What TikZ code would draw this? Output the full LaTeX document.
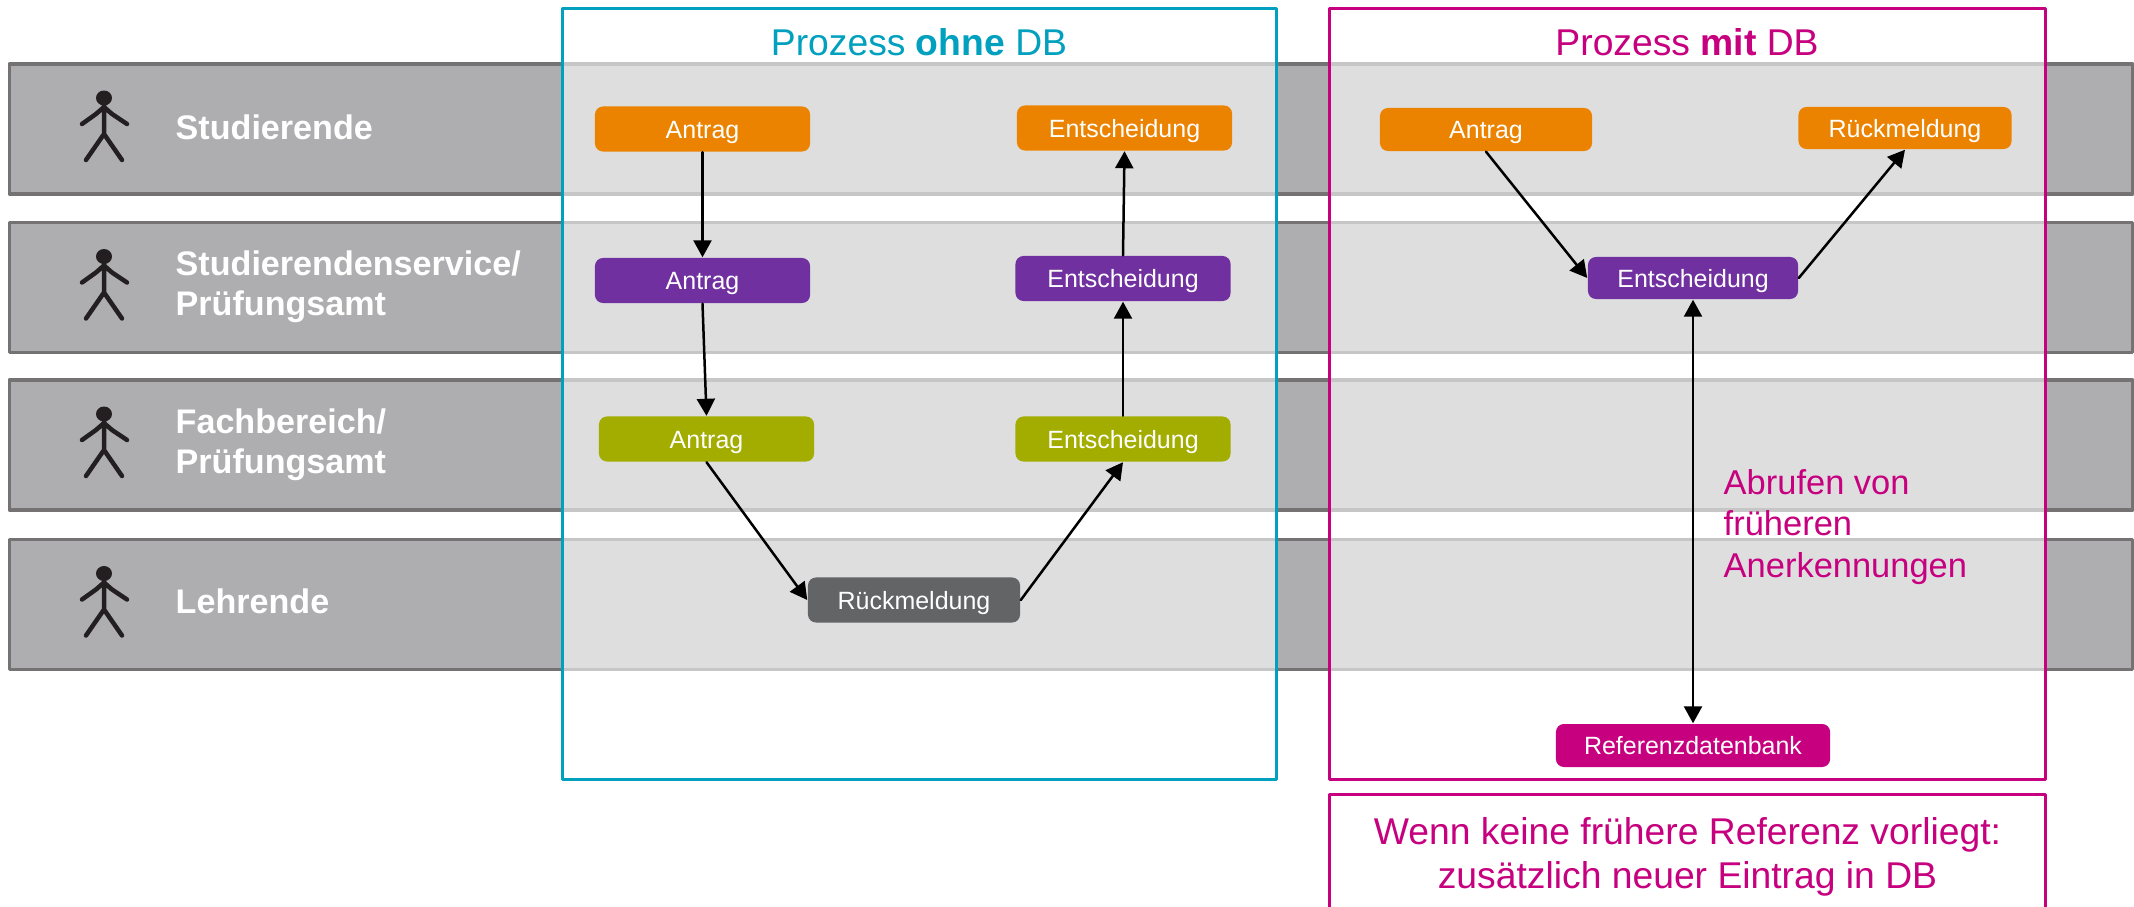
\documentclass[tikz,border=0pt]{standalone}
\usepackage{fontspec}
\setmainfont{Liberation Sans}
\usetikzlibrary{arrows.meta}
\definecolor{orangeA}{HTML}{EB8300}
\definecolor{lilaA}{HTML}{7030A0}
\definecolor{gruenA}{HTML}{A2AD00}
\definecolor{grauA}{HTML}{636466}
\definecolor{magentaA}{HTML}{C6007E}
\definecolor{blauA}{HTML}{00A0BE}
\definecolor{bandgrau}{HTML}{AEAEB0}
\definecolor{bandrand}{HTML}{747272}
\definecolor{strichfarbe}{HTML}{231F20}
\begin{document}
\begin{tikzpicture}[x=0.01cm, y=-0.01cm, line join=round, line cap=round,
	>={Stealth[length=0.17cm,width=0.18cm,inset=0pt]},
	band/.style={draw=bandrand, fill=bandgrau, line width=0.035cm, minimum width=21.22cm, minimum height=1.30cm, inner sep=0pt},
	rolle/.style={text=white, anchor=west, align=left, inner sep=0pt, font=\bfseries\fontsize{9.7}{11.4}\selectfont},
	stufe/.style={text=white, rounded corners=0.08cm, minimum width=2.15cm, minimum height=0.45cm, inner sep=0pt, text height=0.18cm, text depth=0cm, font=\fontsize{7.1}{8.5}\selectfont},
	kasten/.style={line width=0.03cm, fill=white, fill opacity=0.6, inner sep=0pt, minimum width=7.135cm, minimum height=7.70cm},
	titel/.style={anchor=base, font=\fontsize{10.6}{12.6}\selectfont},
	pfeil/.style={->, line width=0.025cm},
	strichmann/.pic={
		\fill[strichfarbe] (0,-31) ellipse (8 and 7.5);
		\draw[strichfarbe, line width=0.045cm] (0,-24)--(0,6) (-22,-5)--(-8,-15)--(0,-22)--(8,-15)--(23,-5) (-18,31)--(0,5)--(18,31);
	}]
	\useasboundingbox (0,0) rectangle (2134,906);
	\clip (0,0) rectangle (2134,906);
	% Baender
	\foreach \y/\n in {129/b1, 287.5/b2, 445/b3, 604.5/b4}{
		\node[band] (\n) at (1071,\y) {};
		\pic at (104,\y) {strichmann};
	}
	\node[rolle] (r1) at (175,127) {Studierende};
	\node[rolle] (r2) at (175,287) {Studierendenservice/\\Prüfungsamt};
	\node[rolle] (r3) at (175,445) {Fachbereich/\\Prüfungsamt};
	\node[rolle] (r4) at (175,601) {Lehrende};
	% Prozess ohne DB
	\node[kasten, draw=blauA] (ohne) at (919.2,394) {};
	\node[titel, text=blauA] (tohne) at (919,55) {Prozess \textbf{ohne} DB};
	\node[stufe, fill=orangeA] (a1) at (702.5,129) {Antrag};
	\node[stufe, fill=lilaA] (a2) at (702.5,280.5) {Antrag};
	\node[stufe, fill=gruenA] (a3) at (706.5,439) {Antrag};
	\node[stufe, fill=grauA, minimum width=2.12cm] (r) at (914,600) {Rückmeldung};
	\node[stufe, fill=gruenA] (e3) at (1123,439) {Entscheidung};
	\node[stufe, fill=lilaA] (e2) at (1123,278.5) {Entscheidung};
	\node[stufe, fill=orangeA] (e1) at (1124.5,128) {Entscheidung};
	\draw[pfeil] (a1.south)--(a2.north);
	\draw[pfeil] (a2.south)--(a3.north);
	\draw[pfeil] (a3.south)--(r.west);
	\draw[pfeil] (r.east)--(e3.south);
	\draw[pfeil] (e3.north)--(e2.south);
	\draw[pfeil] (e2.north)--(e1.south);
	% Prozess mit DB
	\node[kasten, draw=magentaA, minimum width=7.15cm] (mit) at (1687.5,394) {};
	\node[titel, text=magentaA] (tmit) at (1687,55) {Prozess \textbf{mit} DB};
	\node[stufe, fill=orangeA, minimum height=0.43cm, minimum width=2.12cm] (ma) at (1486,129.5) {Antrag};
	\node[stufe, fill=orangeA, minimum height=0.42cm, minimum width=2.13cm] (mr) at (1905,128) {Rückmeldung};
	\node[stufe, fill=lilaA, minimum height=0.42cm, minimum width=2.10cm] (me) at (1693,278) {Entscheidung};
	\node[stufe, fill=magentaA, minimum height=0.43cm, minimum width=2.74cm] (db) at (1693,745.5) {Referenzdatenbank};
	\draw[pfeil] (ma.south)--(me.west);
	\draw[pfeil] (me.east)--(mr.south);
	\draw[pfeil, <->] (me.south)--(db.north);
	\node[anchor=west, align=left, inner sep=0pt, text=magentaA, font=\fontsize{9.8}{11.7}\selectfont] (abruf) at (1723,527) {Abrufen von\\früheren\\Anerkennungen};
	\node[draw=magentaA, line width=0.03cm, fill=white, minimum width=7.15cm, minimum height=1.24cm, inner sep=0pt, align=center, text=magentaA, font=\fontsize{10.6}{12.6}\selectfont] (notiz) at (1687.5,857) {Wenn keine frühere Referenz vorliegt:\\zusätzlich neuer Eintrag in DB};
\end{tikzpicture}
\end{document}
